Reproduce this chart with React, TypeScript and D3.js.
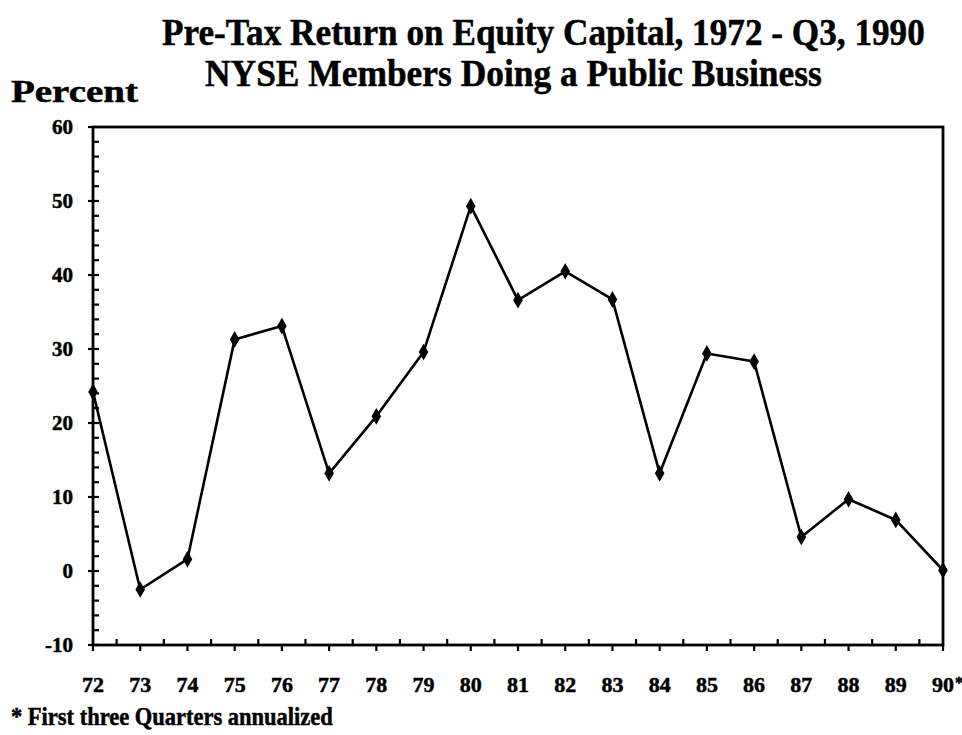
import * as d3 from "d3";
import { useEffect, useRef } from "react";

const years = ["72", "73", "74", "75", "76", "77", "78", "79", "80", "81", "82", "83", "84", "85", "86", "87", "88", "89", "90"];
const returnPct = [24.2, -2.5, 1.6, 31.3, 33.1, 13.2, 20.9, 29.6, 49.3, 36.6, 40.5, 36.7, 13.2, 29.4, 28.3, 4.6, 9.7, 6.9, 0.1];
const yTicks = [-10, 0, 10, 20, 30, 40, 50, 60];

const App = () => {
  const ref = useRef<SVGSVGElement>(null);

  useEffect(() => {
    document.body.style.margin = "0";
    const svg = d3.select(ref.current);
    svg.selectAll("*").remove();

    const left = 93;
    const right = 943;
    const top = 127;
    const bottom = 645;
    const font = "'Liberation Serif', 'Times New Roman', serif";

    const x = d3.scalePoint().domain(years).range([left, right]);
    const y = d3.scaleLinear().domain([-10, 60]).range([bottom, top]);

    const bold = (sel: any, size: number) =>
      sel.style("font-family", font).style("font-weight", "bold").style("font-size", `${size}px`)
        .attr("stroke", "#000").attr("stroke-width", 0.5);

    // condensed look: draw at a bigger size, then squeeze horizontally to the measured width
    const squeezed = (str: string, px: number, py: number, size: number, width: number) => {
      const t = bold(svg.append("text"), size).text(str);
      const w = (t.node() as SVGTextElement).getComputedTextLength() || width;
      t.attr("transform", `translate(${px},${py}) scale(${width / w},1)`);
      return t;
    };

    squeezed("Pre-Tax Return on Equity Capital, 1972 - Q3, 1990", 162, 45, 38, 763);
    squeezed("NYSE Members Doing a Public Business", 205, 86, 38, 617);
    squeezed("Percent", 11, 102, 31, 127);

    // frame
    svg.append("rect")
      .attr("x", left).attr("y", top)
      .attr("width", right - left).attr("height", bottom - top)
      .attr("fill", "none").attr("stroke", "#000").attr("stroke-width", 2.8);

    // y ticks
    const yMinor = d3.range(-10, 60, 2);
    svg.append("g").selectAll("line").data(yTicks).enter().append("line")
      .attr("x1", left - 5).attr("x2", left)
      .attr("y1", d => y(d)).attr("y2", d => y(d))
      .attr("stroke", "#000").attr("stroke-width", 2.2);
    svg.append("g").selectAll("line").data(yMinor).enter().append("line")
      .attr("x1", left).attr("x2", left + 6)
      .attr("y1", d => y(d)).attr("y2", d => y(d))
      .attr("stroke", "#000").attr("stroke-width", 2.2);
    bold(svg.append("g").selectAll("text").data(yTicks).enter().append("text")
      .attr("x", left - 20).attr("y", d => y(d) + 7)
      .attr("text-anchor", "end"), 21)
      .text((d: number) => d);

    // x ticks
    const step = x.step();
    svg.append("g").selectAll("line").data(years).enter().append("line")
      .attr("x1", d => x(d)!).attr("x2", d => x(d)!)
      .attr("y1", bottom).attr("y2", bottom + 6)
      .attr("stroke", "#000").attr("stroke-width", 2.2);
    svg.append("g").selectAll("line").data(years.slice(0, -1)).enter().append("line")
      .attr("x1", d => x(d)! + step / 2).attr("x2", d => x(d)! + step / 2)
      .attr("y1", bottom).attr("y2", bottom - 6)
      .attr("stroke", "#000").attr("stroke-width", 2.2);
    bold(svg.append("g").selectAll("text").data(years).enter().append("text")
      .attr("x", d => x(d)!).attr("y", 692)
      .attr("text-anchor", "middle"), 22)
      .text((d: string) => d);
    bold(svg.append("text")
      .attr("x", x("90")! + 12).attr("y", 688), 16)
      .text("*");

    // line
    const pts = years.map((d, i) => ({ year: d, value: returnPct[i] }));
    const line = d3.line<{ year: string; value: number }>()
      .x(d => x(d.year)!)
      .y(d => y(d.value));
    svg.append("path")
      .datum(pts)
      .attr("d", line)
      .attr("fill", "none").attr("stroke", "#000").attr("stroke-width", 2.6)
      .attr("stroke-linejoin", "round");
    svg.append("g").selectAll("path").data(pts).enter().append("path")
      .attr("d", d3.symbol().type(d3.symbolDiamond).size(80))
      .attr("transform", d => `translate(${x(d.year)},${y(d.value)})`)
      .attr("fill", "#000");

    // footnote
    squeezed("* First three Quarters annualized", 11, 725, 25, 322);
  }, []);

  return <svg ref={ref} width={962} height={735} style={{ display: "block", background: "#fff" }}></svg>;
};

export default App;
